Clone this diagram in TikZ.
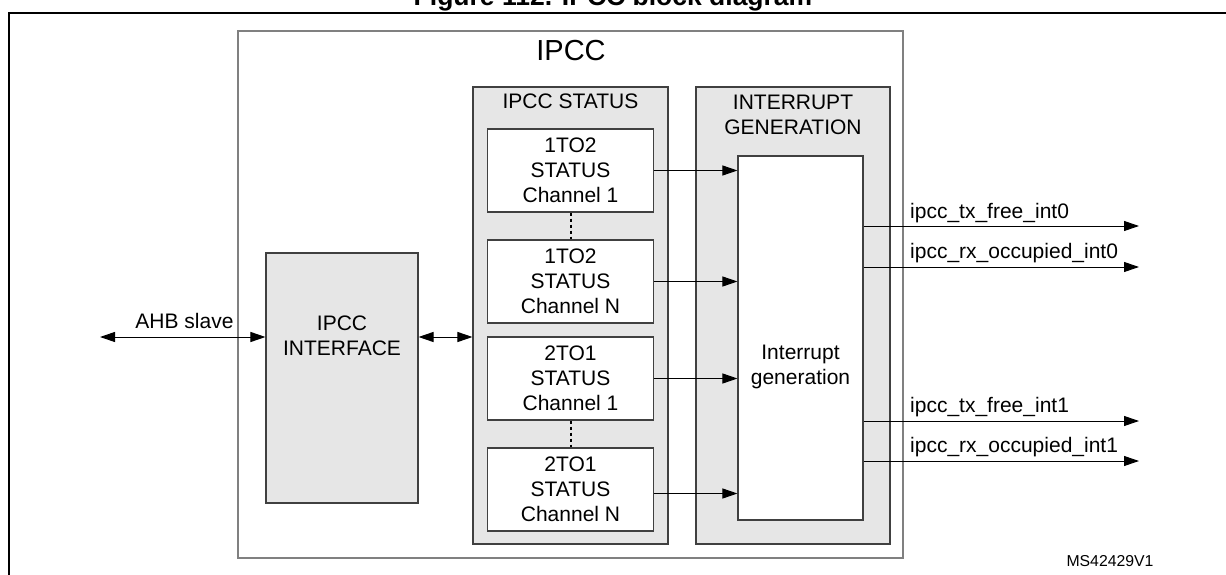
\documentclass[tikz,border=0pt]{standalone}
\usepackage{fontspec}
\setmainfont{Liberation Sans}
\usetikzlibrary{arrows.meta}
\definecolor{boxfill}{HTML}{E6E6E6}
\definecolor{outline}{HTML}{404040}
\definecolor{frame}{HTML}{808080}
\tikzset{
  lbl/.style={font=\fontsize{21}{25}\selectfont, align=center, inner sep=0pt},
  graybox/.style={draw=outline, fill=boxfill, line width=1.1pt},
  whitebox/.style={draw=outline, fill=white, line width=1.1pt, lbl},
  arr/.style={-{Triangle[length=15pt,width=10pt]}, line width=1pt},
  darr/.style={{Triangle[length=15pt,width=10pt]}-{Triangle[length=15pt,width=10pt]}, line width=1pt},
  dotline/.style={line width=2pt, dash pattern=on 3pt off 3pt},
}
\begin{document}
\begin{tikzpicture}[x=1pt, y=-1pt]
\useasboundingbox (0,0) rectangle (1226,575);
\clip (0,0) rectangle (1226,575);
% title (cut off by the page edge) and outer frame
\node[font=\fontsize{26.5}{30}\bfseries\selectfont, anchor=base, inner sep=0pt] (title) at (613,6) {Figure 112. IPCC block diagram};
\draw[line width=2pt] (9,600) -- (9,13) -- (1240,13) -- (1240,600);
% IPCC container
\node[draw=frame, line width=1.1pt, minimum width=665pt, minimum height=527pt, inner sep=0pt] (ipcc) at (570.5,294.5) {};
\node[font=\fontsize{29}{32}\selectfont, inner sep=0pt] (ipcct) at (571,51) {IPCC};
% interface
\node[graybox, minimum width=152pt, minimum height=250pt, inner sep=0pt] (ifc) at (342,378) {};
\node[lbl] (ifct) at (342,335.5) {IPCC\\INTERFACE};
% status group
\node[graybox, minimum width=195pt, minimum height=457pt, inner sep=0pt] (st) at (570.5,315.5) {};
\node[lbl] (stt) at (570.5,101.5) {IPCC STATUS};
\node[whitebox, minimum width=166pt, minimum height=83pt] (s1) at (570.5,170.5) {1TO2\\STATUS\\Channel 1};
\node[whitebox, minimum width=166pt, minimum height=83pt] (s2) at (570.5,281.5) {1TO2\\STATUS\\Channel N};
\node[whitebox, minimum width=166pt, minimum height=83pt] (s3) at (570.5,378.5) {2TO1\\STATUS\\Channel 1};
\node[whitebox, minimum width=166pt, minimum height=83pt] (s4) at (570.5,489.5) {2TO1\\STATUS\\Channel N};
\draw[dotline] (s1.south) -- (s2.north);
\draw[dotline] (s3.south) -- (s4.north);
% interrupt group
\node[graybox, minimum width=194pt, minimum height=457pt, inner sep=0pt] (ig) at (793,315.5) {};
\node[lbl] (igt) at (793,114.5) {INTERRUPT\\GENERATION};
\node[whitebox, minimum width=125pt, minimum height=364pt] (gen) at (800.5,338) {};
\node[lbl] (gent) at (800.5,367) {Interrupt\\generation};
% status -> generator
\draw[arr] (s1.east) -- (s1.east -| gen.west);
\draw[arr] (s2.east) -- (s2.east -| gen.west);
\draw[arr] (s3.east) -- (s3.east -| gen.west);
\draw[arr] ([yshift=-4pt]s4.east) -- ([yshift=-4pt]s4.east -| gen.west);
% AHB
\coordinate (ahb) at (100,337);
\draw[darr] (ahb) -- (ahb -| ifc.west);
\node[lbl, anchor=base] (ahbt) at (184.5,328) {AHB slave};
\draw[darr] (ahb -| ifc.east) -- (ahb -| st.west);
% outputs
\coordinate (o1) at (1139,226);
\coordinate (o2) at (1139,267);
\coordinate (o3) at (1139,421);
\coordinate (o4) at (1139,461);
\draw[arr] (o1 -| gen.east) -- (o1);
\draw[arr] (o2 -| gen.east) -- (o2);
\draw[arr] (o3 -| gen.east) -- (o3);
\draw[arr] (o4 -| gen.east) -- (o4);
\node[lbl, anchor=base west] (t1) at (910,218) {ipcc\_tx\_free\_int0};
\node[lbl, anchor=base west] (t2) at (910,258) {ipcc\_rx\_occupied\_int0};
\node[lbl, anchor=base west] (t3) at (910,412) {ipcc\_tx\_free\_int1};
\node[lbl, anchor=base west] (t4) at (910,452) {ipcc\_rx\_occupied\_int1};
% reference
\node[font=\fontsize{15.8}{18}\selectfont, inner sep=0pt] (ref) at (1110,561) {MS42429V1};
\end{tikzpicture}
\end{document}
